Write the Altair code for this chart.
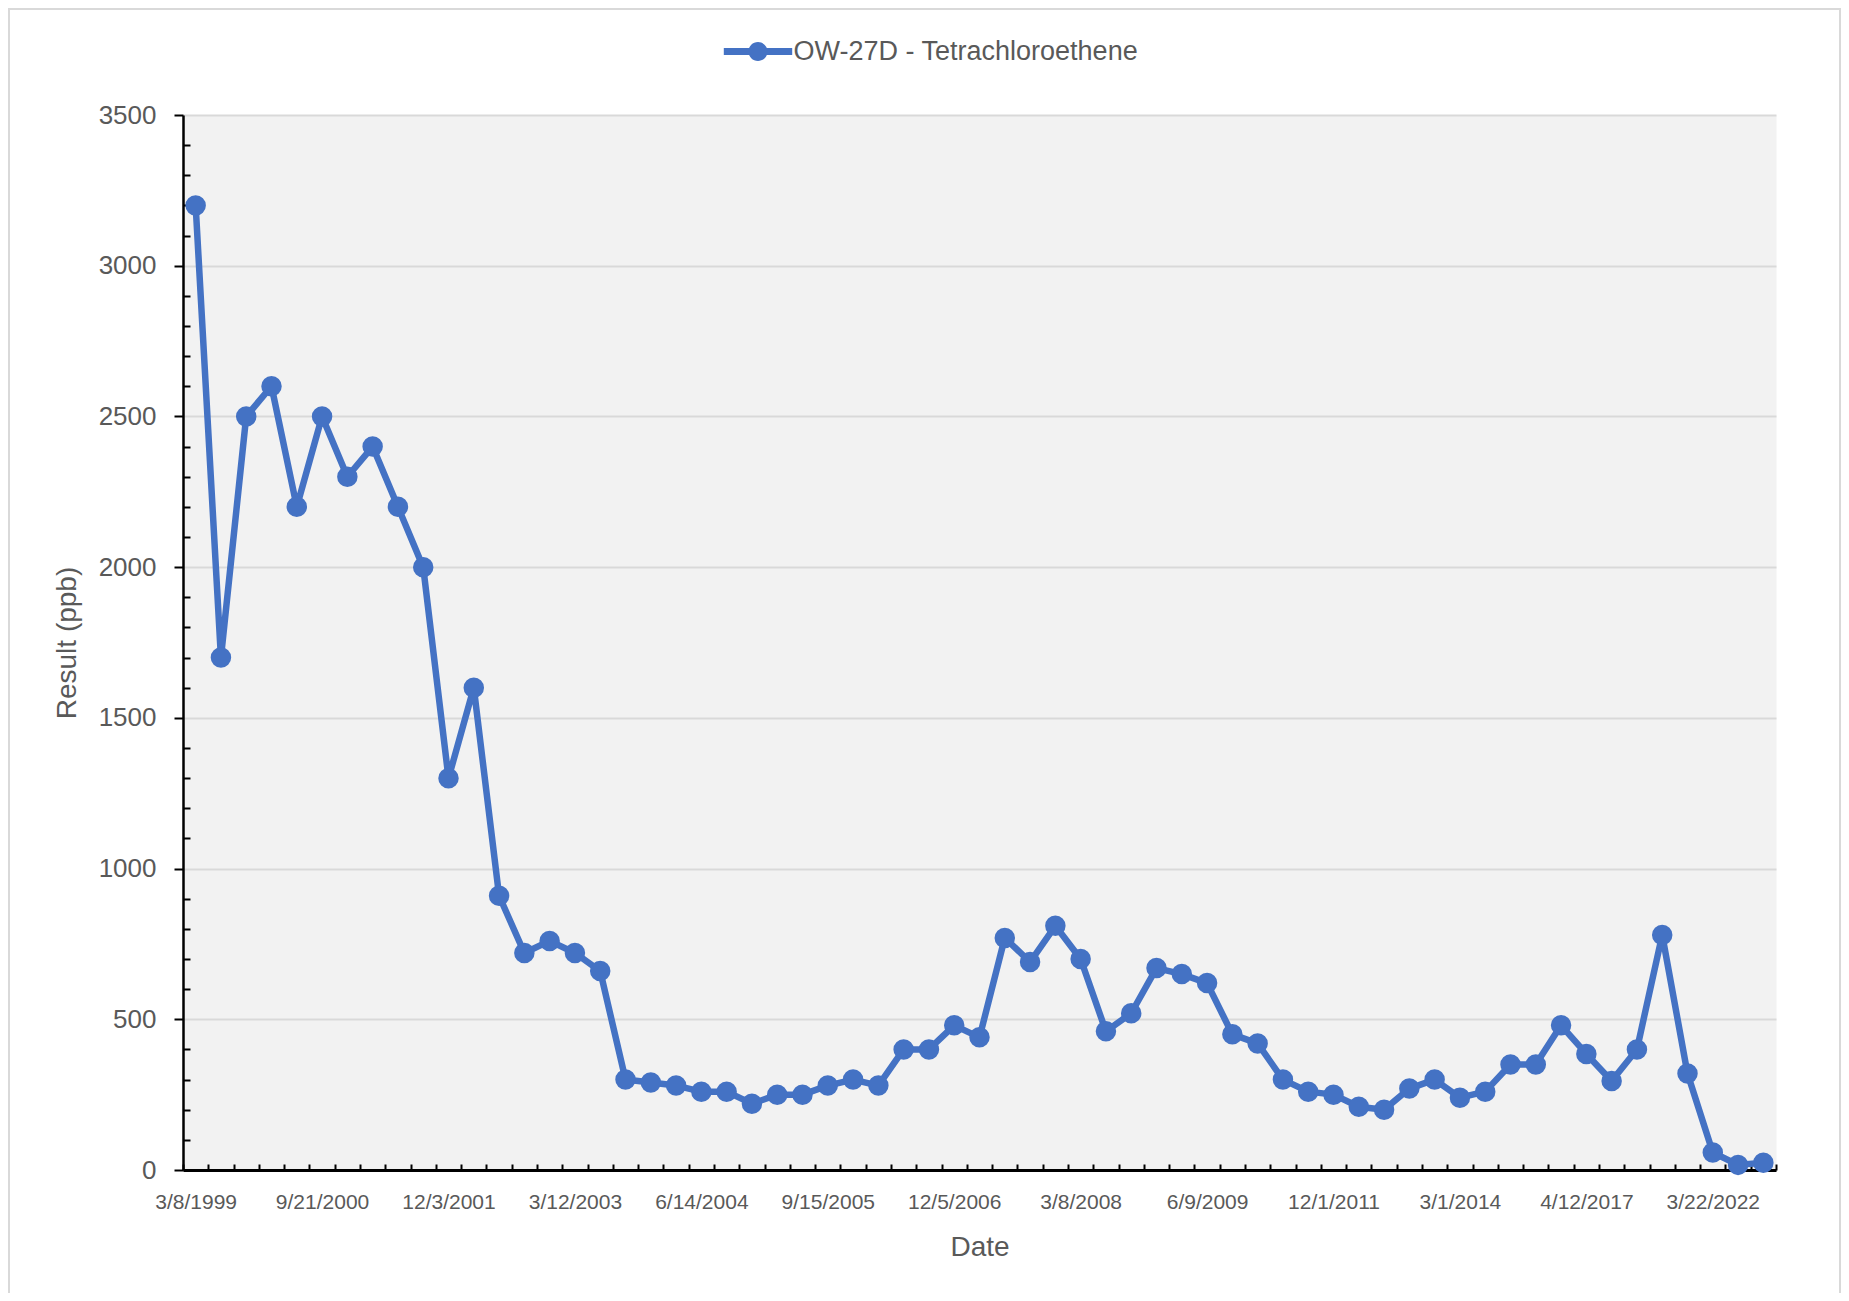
import altair as alt
import pandas as pd
import json

series_name = "OW-27D - Tetrachloroethene"
tick_labels = ["3/8/1999", "9/21/2000", "12/3/2001", "3/12/2003", "6/14/2004",
               "9/15/2005", "12/5/2006", "3/8/2008", "6/9/2009", "12/1/2011",
               "3/1/2014", "4/12/2017", "3/22/2022"]
label_every = 5
values = [3200, 1700, 2500, 2600, 2200, 2500, 2300, 2400, 2200, 2000,
          1300, 1600, 910, 720, 760, 720, 660, 300, 290, 280,
          260, 260, 220, 250, 250, 280, 300, 280, 400, 400,
          480, 440, 770, 690, 810, 700, 460, 520, 670, 650,
          620, 450, 420, 300, 260, 250, 210, 200, 270, 300,
          240, 260, 350, 350, 480, 385, 295, 400, 780, 320,
          58, 17, 24]

n = len(values)
df = pd.DataFrame({"idx": list(range(n)), "value": values, "series": [series_name] * n})

W, H = 1593, 1055
PAD_L, PAD_T, PAD_R, PAD_B = 175, 107, 65, 123
step = W / n
blue = "#4472C4"
grey_txt = "#595959"
font = "Liberation Sans"

xticks = [i - 0.5 for i in range(n + 1)]
labels_js = json.dumps(tick_labels)
x_label_expr = f"{labels_js}[round(datum.value + 0.5) / {label_every}] || ''"

x_enc = alt.X(
    "idx:Q",
    scale=alt.Scale(domain=[-0.5, n - 0.5], nice=False, zero=False),
    axis=alt.Axis(
        values=xticks, labelExpr=x_label_expr, labelOffset=step / 2,
        labelFlush=False, labelOverlap=False, grid=False,
        tickSize=alt.ExprRef("-6"), tickColor="black", tickWidth=2,
        domainColor="black", domainWidth=3,
        labelFont=font, labelFontSize=21, labelColor=grey_txt, labelPadding=27,
        title="Date", titleFont=font, titleFontSize=28, titleColor=grey_txt,
        titleFontWeight="normal", titleX=W / 2, titleY=85,
        titleBaseline="alphabetic", titleAlign="center",
    ),
)

y_enc = alt.Y(
    "value:Q",
    scale=alt.Scale(domain=[0, 3500], nice=False),
    axis=alt.Axis(
        values=list(range(0, 3501, 100)),
        labelExpr="datum.value % 500 === 0 ? format(datum.value, 'd') : ''",
        tickSize=alt.ExprRef("datum.value % 500 === 0 ? 9 : -7"),
        tickColor="black", tickWidth=2,
        domainColor="black", domainWidth=2.5,
        grid=True, gridColor="#D9D9D9", gridWidth=2,
        gridOpacity={"condition": {"test": "datum.value % 500 === 0", "value": 1}, "value": 0},
        labelFont=font, labelFontSize=26, labelColor=grey_txt, labelPadding=18,
        labelOverlap=False,
        title="Result (ppb)", titleFont=font, titleFontSize=28, titleColor=grey_txt,
        titleFontWeight="normal", titleX=-107.5, titleY=H / 2,
        titleBaseline="alphabetic", titleAlign="center",
    ),
)

legend_path = ("M-3.6,-0.36L3.6,-0.36L3.6,0.36L-3.6,0.36Z "
               "M-1,0A1,1 0 1,1 1,0A1,1 0 1,1 -1,0Z")

base = alt.Chart(df)

# light grey frame around the whole chart area (decoration)
frame = alt.Chart(pd.DataFrame({"f": [0]})).mark_rect(
    fillOpacity=0, stroke="#D9D9D9", strokeWidth=2
).encode(
    x=alt.value(-PAD_L + 1), x2=alt.value(W + PAD_R - 1),
    y=alt.value(-PAD_T + 1), y2=alt.value(H + PAD_B + 50),
)

line = base.mark_line(color=blue, strokeWidth=6.5, strokeJoin="round", strokeCap="round").encode(
    x=x_enc, y=y_enc
)
pts = base.mark_circle(size=420, opacity=1).encode(
    x=x_enc, y=y_enc,
    color=alt.Color(
        "series:N",
        scale=alt.Scale(domain=[series_name], range=[blue]),
        legend=alt.Legend(
            orient="none", legendX=561.5, legendY=-77, title=None,
            symbolType=legend_path, symbolSize=361, symbolFillColor=blue,
            symbolStrokeWidth=0, labelFont=font, labelFontSize=27,
            labelColor=grey_txt, labelOffset=22, labelLimit=800, padding=0,
        ),
    ),
)

chart = alt.layer(frame, line, pts).properties(
    width=W, height=H,
    padding={"left": PAD_L, "top": PAD_T, "right": PAD_R, "bottom": PAD_B},
    autosize=alt.AutoSizeParams(type="none"),
).configure_view(fill="#F2F2F2", stroke="transparent")

chart.save("out.html", embed_options={"renderer": "svg", "actions": False})
